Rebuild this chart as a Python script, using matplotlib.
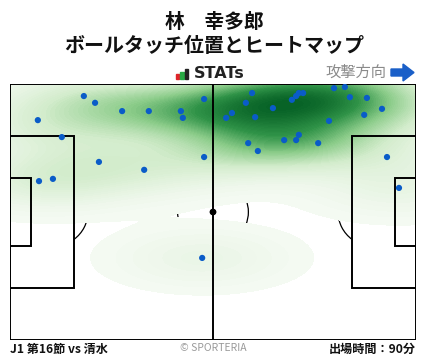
import matplotlib
matplotlib.use("Agg")
import matplotlib.pyplot as plt
import numpy as np
from matplotlib.colors import LinearSegmentedColormap
from matplotlib.patches import Rectangle, Arc, Circle, Polygon

plt.rcParams['font.family'] = ['Noto Sans CJK JP', 'DejaVu Sans']

PLAYER = "林　幸多郎"
TITLE = "ボールタッチ位置とヒートマップ"
MATCH = "J1 第16節 vs 清水"
MINUTES = "出場時間：90分"

# ball touch positions in metres (x along pitch, y from top touchline)
touch_x = [19.1, 22.0, 7.2, 29.0, 35.9, 44.2, 44.7, 50.2, 13.4, 23.0, 34.7,
           50.2, 7.5, 11.1, 49.7, 62.6, 61.0, 57.4, 55.9, 63.4, 68.0, 72.9,
           74.0, 74.7, 75.8, 83.8, 86.6, 87.9, 92.3, 96.2, 91.6, 82.5, 61.6,
           64.1, 70.9, 74.0, 74.7, 79.7, 97.5, 100.6]
touch_y = [3.2, 5.0, 9.6, 7.2, 7.2, 7.2, 9.0, 4.0, 14.1, 20.7, 22.8,
           19.4, 25.8, 25.2, 46.2, 2.4, 5.0, 7.7, 9.0, 8.8, 6.4, 4.2,
           3.2, 2.4, 2.4, 1.1, 0.8, 3.5, 3.7, 6.6, 8.2, 9.8, 15.7,
           17.8, 14.9, 14.9, 13.5, 15.7, 19.4, 27.6]

L, W = 105.0, 68.0

fig = plt.figure(figsize=(4.28, 3.59), dpi=100)
fig.patch.set_facecolor("white")

# overlay in pixel coordinates for header / footer
ov = fig.add_axes([0, 0, 1, 1])
ov.set_xlim(0, 428)
ov.set_ylim(359, 0)
ov.axis("off")

ax = fig.add_axes([10 / 428, 19 / 359, 406 / 428, 256 / 359])
ax.set_xlim(0, L)
ax.set_ylim(W, 0)
ax.axis("off")

# ── heatmap (gaussian kde of touches) ──────────────────────────────────────
gx = np.linspace(0, L, 421)
gy = np.linspace(0, W, 273)
GX, GY = np.meshgrid(gx, gy)
px = np.array(touch_x)
py = np.array(touch_y)
sx, sy = 14.0, 4.8
dens = np.zeros_like(GX)
for x0, y0 in zip(px, py):
    dens += np.exp(-0.5 * (((GX - x0) / sx) ** 2 + ((GY - y0) / sy) ** 2))
thresh = 0.12
cmap = LinearSegmentedColormap.from_list(
    "g", ["#f5faf3", "#d3eccc", "#8ccc8a", "#2f9247", "#076226"])
ax.contourf(GX, GY, dens, levels=np.linspace(thresh, dens.max(), 70),
            cmap=cmap, antialiased=False, zorder=2)

# lines beneath heatmap (only show through empty areas)
thin = dict(color="black", lw=0.9, zorder=1)
ax.add_patch(Arc((L / 2, W / 2), 18.3, 18.3, fill=False, **thin))
ax.add_patch(Arc((11, W / 2), 18.3, 18.3, theta1=-53, theta2=53,
                 fill=False, **thin))
ax.add_patch(Arc((L - 11, W / 2), 18.3, 18.3, theta1=127, theta2=233,
                 fill=False, **thin))

# main lines on top
lk = dict(fill=False, ec="black", lw=1.4, zorder=4)
ax.add_patch(Rectangle((0, 0), L, W, **lk))
ax.plot([L / 2, L / 2], [0, W], color="black", lw=1.4, zorder=4)
ax.add_patch(Rectangle((0, W / 2 - 20.16), 16.5, 40.32, **lk))
ax.add_patch(Rectangle((L - 16.5, W / 2 - 20.16), 16.5, 40.32, **lk))
ax.add_patch(Rectangle((0, W / 2 - 9.16), 5.5, 18.32, **lk))
ax.add_patch(Rectangle((L - 5.5, W / 2 - 9.16), 5.5, 18.32, **lk))
ax.add_patch(Circle((L / 2, W / 2), 0.7, color="black", zorder=5))

ax.scatter(px, py, s=20, color="#0a5cc8", edgecolors="none", zorder=6)

# ── header ─────────────────────────────────────────────────────────────────
ov.text(214, 22, PLAYER, ha="center", va="center", fontsize=14.2,
        fontweight="bold", color="#111111")
ov.text(214, 46, TITLE, ha="center", va="center", fontsize=14.4,
        fontweight="bold", color="#111111")

ov.add_patch(Rectangle((176, 74), 3.5, 4.5, color="#e0242a"))
ov.add_patch(Rectangle((180.3, 72), 3.5, 6.5, color="#27a844"))
ov.add_patch(Rectangle((184.6, 69), 3.5, 9.5, color="#222222"))
ov.text(194, 74, "STATs", ha="left", va="center", fontsize=11.5,
        fontweight="bold", color="#222222", family="DejaVu Sans")

ov.text(386, 72, "攻撃方向", ha="right", va="center", fontsize=11,
        color="#8a8a8a")
ov.add_patch(Polygon([(391, 69), (403, 69), (403, 64), (414, 72.5),
                      (403, 81), (403, 76), (391, 76)],
                     closed=True, color="#1a5fc8"))

# ── footer ─────────────────────────────────────────────────────────────────
ov.text(10, 349, MATCH, ha="left", va="center", fontsize=8.7,
        fontweight="bold", color="#111111")
ov.text(213, 348, "© SPORTERIA", ha="center", va="center", fontsize=7.5,
        color="#9a9a9a")
ov.text(416, 349, MINUTES, ha="right", va="center", fontsize=8.7,
        fontweight="bold", color="#111111")

fig.savefig("out.png", dpi=100, facecolor="white")
